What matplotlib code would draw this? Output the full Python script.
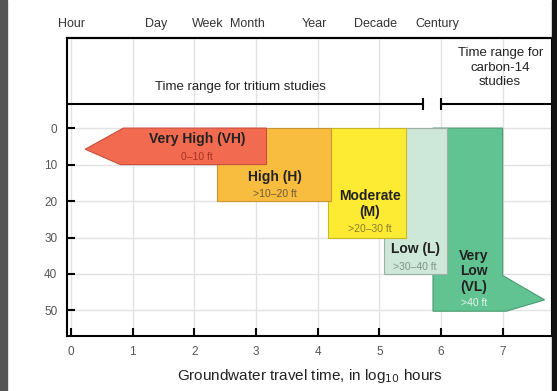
#Groundwater travel time vs depth class chart
import numpy as np
import matplotlib.pyplot as plt
from matplotlib.patches import Rectangle

plt.rcParams['font.family'] = ['Liberation Sans', 'DejaVu Sans']

# Time scale names across the top (in hours)
time_names = ['Hour', 'Day', 'Week', 'Month', 'Year', 'Decade', 'Century']
time_hours = [1, 24, 168, 730, 8766, 87660, 876600]

# Depth classes
class_names = ['Very High (VH)', 'High (H)', 'Moderate\n(M)', 'Low (L)', 'Very\nLow\n(VL)']
depth_labels = ['0\u201310 ft', '>10\u201320 ft', '>20\u201330 ft', '>30\u201340 ft', '>40 ft']
depth_top = [0, 0, 0, 0, 0]
depth_bottom = [10, 20, 30, 40, 50]
# travel time extent of each box, log10 hours
time_start = [0.85, 2.36, 4.17, 5.07, 5.87]
time_end = [3.17, 4.22, 5.44, 6.09, 7.0]
# arrow heads
vh_tip = 0.23
vl_tip = 7.68

# study ranges, log10 hours
tritium_end = 5.7
carbon_start = 6.0

fills = ['#F26B50', '#F8BC3E', '#FDEA32', '#CDE7D8', '#62C392']
edges = ['#C8503A', '#C89530', '#C8B828', '#9AB0A4', '#4A9A72']
sub_colors = ['#A8321F', '#6E5A3A', '#8A7D2A', '#7F9488', '#E4F4EA']

fig = plt.figure(figsize=(5.57, 3.91), dpi=100)
ax = fig.add_axes([67/557, 55/391, 485/557, 298/391])
ax.set_xlim(-0.065, 7.8)
ax.set_ylim(57.0, -24.7)

# boxes, drawn from the back (VL) to the front (VH)
for i in [4, 3, 2, 1, 0]:
    x0, x1 = time_start[i], time_end[i]
    y0, y1 = depth_top[i], depth_bottom[i]
    if i == 0:
        xs = [vh_tip, x0, x1, x1, x0 - 0.05]
        ys = [(y0 + y1) / 2 + 0.8, y0, y0, y1, y1]
    elif i == 4:
        xs = [x0, x1, x1, vl_tip, x1 + 0.06, x0]
        ys = [y0, y0, 40.4, 47.1, y1 + 0.2, y1 + 0.2]
    else:
        xs = [x0, x1, x1, x0]
        ys = [y0, y0, y1, y1]
    ax.fill(xs, ys, facecolor=fills[i], edgecolor=edges[i], lw=0.8, zorder=2 + (5 - i))

# box labels
title_pos = [(2.04, 3.0), (3.3, 13.3), (4.85, 20.8), (5.58, 33.2), (6.53, 39.3)]
sub_pos = [(2.04, 7.9), (3.3, 18.1), (4.85, 27.8), (5.58, 38.1), (6.53, 48.0)]
for i in range(5):
    ax.text(title_pos[i][0], title_pos[i][1], class_names[i], ha='center', va='center',
            fontsize=10, fontweight='bold', color='#222222', linespacing=1.1, zorder=10)
    ax.text(sub_pos[i][0], sub_pos[i][1], depth_labels[i], ha='center', va='center',
            fontsize=7.5, color=sub_colors[i], zorder=10)

# study time ranges
ax.hlines(-6.6, -0.065, tritium_end, color='k', lw=1.5, zorder=5)
ax.vlines(tritium_end, -8.2, -5.0, color='k', lw=1.5, zorder=5)
ax.hlines(-6.6, carbon_start, 7.8, color='k', lw=1.5, zorder=5)
ax.vlines(carbon_start, -8.2, -5.0, color='k', lw=1.5, zorder=5)
ax.text(2.74, -11.2, 'Time range for tritium studies', ha='center', va='center',
        fontsize=9.5, color='#222222')
ax.text(6.96, -16.6, 'Time range for\ncarbon-14\nstudies', ha='center', va='center',
        fontsize=9.5, color='#222222', linespacing=1.3)

# axes
ax.set_xticks(range(8))
ax.set_yticks([0, 10, 20, 30, 40, 50])
ax.grid(color='#e2e2e2', lw=1)
ax.set_axisbelow(True)
ax.tick_params(direction='in', length=6, width=1.5, labelsize=8.5, labelcolor='#555555', pad=7)
for s in ax.spines.values():
    s.set_linewidth(1.5)
ax.set_xlabel('Groundwater travel time, in log$_{10}$ hours', fontsize=11, color='#222222', labelpad=7)

# time names on top
secax = ax.secondary_xaxis('top')
secax.set_xticks(np.log10(time_hours), labels=time_names)
secax.tick_params(length=0, pad=6, labelsize=9, labelcolor='#333333')
secax.spines['top'].set_linewidth(1.5)

# dark frame edges
fig.patches.append(Rectangle((0, 0), 7/557, 1, transform=fig.transFigure, color='#555555'))
fig.patches.append(Rectangle((552/557, 0), 5/557, 1, transform=fig.transFigure, color='#111111'))

plt.savefig('out.png', dpi=100)
